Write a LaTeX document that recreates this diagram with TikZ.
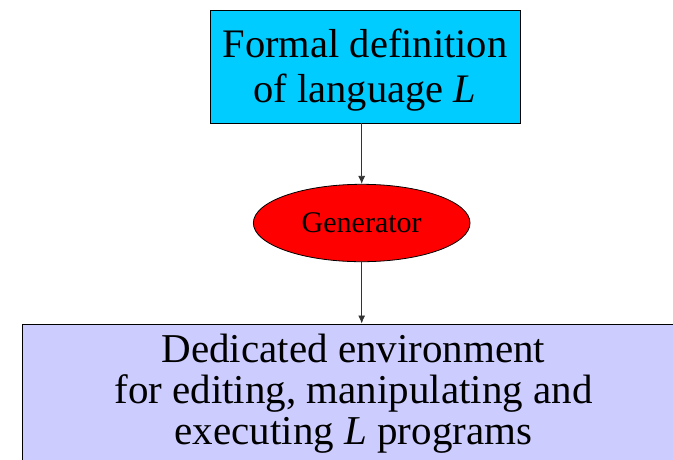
\documentclass[tikz,border=0pt]{standalone}
\usepackage{fontspec}
\setmainfont{Liberation Serif}
\usetikzlibrary{shapes.geometric,arrows.meta}
\definecolor{defcyan}{HTML}{00CCFF}
\definecolor{genred}{HTML}{FF0000}
\definecolor{envlilac}{HTML}{CCCCFF}
\definecolor{wire}{HTML}{333333}
\tikzset{
  box/.style={draw=black, line width=0.8pt, inner sep=0pt, rectangle},
  label/.style={inner sep=0pt, align=center, text=black},
  arr/.style={-{Latex[length=8pt,width=7pt]}, line width=0.8pt, wire},
}
\begin{document}
\begin{tikzpicture}[x=1pt, y=-1pt]
  \useasboundingbox (0,0) rectangle (673,459);
  \clip (0,0) rectangle (673,459);
  \fill[white] (0,0) rectangle (673,459);

  % formal definition box
  \node[box, fill=defcyan, minimum width=310pt, minimum height=113pt] (def) at (365,66.5) {};
  \node[label, font=\fontsize{40.5}{45}\selectfont] (deftext) at (365,70.5)
    {Formal definition\\of language \textit{L}};

  % generator
  \node[draw=black, line width=0.8pt, ellipse, fill=genred, inner sep=0pt,
        minimum width=216.7pt, minimum height=77.4pt,
        font=\fontsize{30}{36}\selectfont] (gen) at (361.7,223) {Generator};

  % generated environment (runs off the right and bottom edges)
  \node[box, fill=envlilac, minimum width=700pt, minimum height=160pt,
        anchor=north west] (env) at (22,323.5) {};
  \node[label, font=\fontsize{41}{41}\selectfont] (envtext) at (353.5,393.5)
    {Dedicated environment\\for editing, manipulating and\\executing \textit{L} programs};

  % connectors
  \draw[arr] (gen.north |- def.south) -- (gen.north);
  \draw[arr] (gen.south) -- (gen.south |- env.north);
\end{tikzpicture}
\end{document}
